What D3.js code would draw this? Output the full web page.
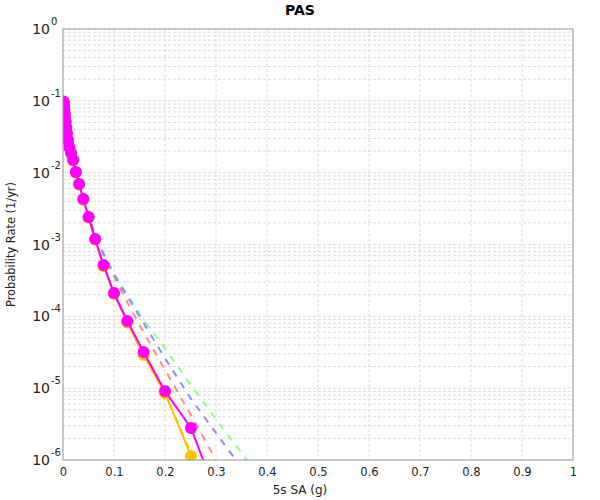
<!DOCTYPE html>
<html lang="en">
<head>
    <meta charset="UTF-8">
    <title>PAS hazard curves</title>
    <script src="https://d3js.org/d3.v7.min.js"></script>
    <style>
        body { margin: 0; background: #fff; }
        text { font-family: "DejaVu Sans", sans-serif; }
    </style>
</head>
<body>
    <div id="my_dataviz"></div>

    <script>
        // shared ground motion levels (g)
        var saLevels = [0.001, 0.00126, 0.00158, 0.002, 0.00251, 0.00316, 0.00398, 0.00501, 0.00631, 0.00794,
                        0.01, 0.0126, 0.0158, 0.02, 0.0251, 0.0316, 0.0398, 0.0501, 0.0631, 0.0794,
                        0.1, 0.126, 0.158, 0.2, 0.251, 0.316, 0.398];

        // solid curves with markers
        var magentaRates = [0.098, 0.094, 0.089, 0.083, 0.076, 0.068, 0.060, 0.051, 0.043, 0.035,
                            0.028, 0.0225, 0.0188, 0.0150, 0.0102, 0.00695, 0.0043, 0.00241, 0.00119, 0.00052,
                            0.000211, 0.000086, 0.0000319, 0.0000091, 0.00000279, 0.00000017, 0.000000005];
        var orangeRates = [0.098, 0.094, 0.089, 0.083, 0.076, 0.068, 0.060, 0.051, 0.043, 0.035,
                           0.028, 0.0225, 0.0186, 0.0148, 0.0100, 0.0068, 0.0042, 0.00236, 0.00116, 0.00050,
                           0.000205, 0.000082, 0.000029, 0.0000085, 0.00000114, 0.00000001, 0.000000001];

        // dashed curves
        var orangeDashRates = [0.098, 0.094, 0.089, 0.083, 0.076, 0.068, 0.060, 0.051, 0.043, 0.035,
                               0.028, 0.0225, 0.0186, 0.0148, 0.0100, 0.0068, 0.0042, 0.00236, 0.00116, 0.00050,
                               0.000205, 0.000082, 0.000029, 0.0000085, 0.00000125, 0.00000005, 0.000000002];
        var salmonRates = [0.098, 0.094, 0.089, 0.083, 0.076, 0.068, 0.060, 0.051, 0.043, 0.035,
                           0.028, 0.0226, 0.0189, 0.0152, 0.0104, 0.0071, 0.0044, 0.0025, 0.00135, 0.00072,
                           0.00036, 0.000158, 0.00006, 0.000018, 0.0000042, 0.00000063, 0.00000005];
        var greenRates = [0.098, 0.094, 0.089, 0.083, 0.076, 0.068, 0.060, 0.051, 0.043, 0.035,
                          0.028, 0.0226, 0.0189, 0.0152, 0.0104, 0.0071, 0.0044, 0.0025, 0.00138, 0.00076,
                          0.00040, 0.0002, 0.000089, 0.0000355, 0.000011, 0.0000026, 0.00000045];
        var blueRates = [0.098, 0.094, 0.089, 0.083, 0.076, 0.068, 0.060, 0.051, 0.043, 0.035,
                         0.028, 0.0226, 0.0189, 0.0152, 0.0104, 0.0071, 0.0044, 0.0025, 0.00138, 0.00074,
                         0.00038, 0.00019, 0.000081, 0.000026, 0.0000071, 0.00000166, 0.00000027];

        var xTicks = [0, 0.1, 0.2, 0.3, 0.4, 0.5, 0.6, 0.7, 0.8, 0.9, 1];
        var yExponents = [0, -1, -2, -3, -4, -5, -6];

        var margin = {top: 29, right: 27, bottom: 40, left: 63};
        var width = 600 - margin.left - margin.right;
        var height = 500 - margin.top - margin.bottom;

        var svg = d3.select("#my_dataviz")
            .append("svg")
            .attr("width", 600)
            .attr("height", 500);

        var g = svg.append("g")
            .attr("transform", "translate(" + margin.left + "," + margin.top + ")");

        var x = d3.scaleLinear().domain([0, 1]).range([0, width]);
        var y = d3.scaleLog().domain([1e-6, 1]).range([height, 0]);

        // grid: every decade plus 2..9 minor lines
        var yGrid = [];
        yExponents.forEach(function(e) {
            for (var m = 1; m < 10; m++) {
                var v = m * Math.pow(10, e);
                if (v <= 1 && v >= 1e-6) yGrid.push(v);
            }
        });

        g.selectAll(".ygrid")
            .data(yGrid)
            .enter()
            .append("line")
            .attr("x1", 0)
            .attr("x2", width)
            .attr("y1", function(d) { return y(d); })
            .attr("y2", function(d) { return y(d); })
            .attr("stroke", "#dcdcdc")
            .attr("stroke-dasharray", "3,2");

        g.selectAll(".xgrid")
            .data(xTicks)
            .enter()
            .append("line")
            .attr("x1", function(d) { return x(d); })
            .attr("x2", function(d) { return x(d); })
            .attr("y1", 0)
            .attr("y2", height)
            .attr("stroke", "#dcdcdc")
            .attr("stroke-dasharray", "3,2");

        // clip for the curves
        svg.append("clipPath").attr("id", "plotclip")
            .append("rect").attr("width", width).attr("height", height);

        var plot = g.append("g").attr("clip-path", "url(#plotclip)");

        var line = d3.line()
            .x(function(d) { return x(d[0]); })
            .y(function(d) { return y(d[1]); });

        function pairs(rates) {
            return saLevels.map(function(s, i) { return [s, rates[i]]; });
        }

        var dashed = [
            {rates: salmonRates, color: "#ff8c8c"},
            {rates: greenRates, color: "#8cff8c"},
            {rates: blueRates, color: "#8c8cff"},
            {rates: orangeDashRates, color: "#ffc000"}
        ];

        dashed.forEach(function(s) {
            plot.append("path")
                .datum(pairs(s.rates))
                .attr("d", line)
                .attr("fill", "none")
                .attr("stroke", s.color)
                .attr("stroke-width", 2)
                .attr("stroke-dasharray", "7,7");
        });

        var solid = [
            {rates: orangeRates, color: "#ffc000"},
            {rates: magentaRates, color: "#ff00ff"}
        ];

        solid.forEach(function(s) {
            plot.append("path")
                .datum(pairs(s.rates))
                .attr("d", line)
                .attr("fill", "none")
                .attr("stroke", s.color)
                .attr("stroke-width", 2);

            plot.selectAll(null)
                .data(pairs(s.rates))
                .enter()
                .append("circle")
                .attr("cx", function(d) { return x(d[0]); })
                .attr("cy", function(d) { return y(d[1]); })
                .attr("r", 6)
                .attr("fill", s.color);
        });

        // frame
        g.append("rect")
            .attr("width", width)
            .attr("height", height)
            .attr("fill", "none")
            .attr("stroke", "#999");

        // x axis labels
        g.append("g")
            .attr("transform", "translate(0," + height + ")")
            .call(d3.axisBottom(x).tickValues(xTicks).tickSize(0).tickPadding(8)
                .tickFormat(function(d) { return d === 0 || d === 1 ? String(d) : d3.format(".1f")(d); }))
            .call(function(a) { a.select(".domain").remove(); })
            .selectAll("text")
                .style("font-size", "11.5px")
                .style("font-family", "DejaVu Sans, sans-serif")
                .attr("fill", "#222");

        // y axis labels, 10 with superscript exponent
        var yl = g.selectAll(".ylab")
            .data(yExponents)
            .enter()
            .append("g")
            .attr("transform", function(d) { return "translate(-13," + (y(Math.pow(10, d)) + 5) + ")"; });

        yl.append("text")
            .attr("text-anchor", "end")
            .style("font-size", "14px")
            .attr("fill", "#222")
            .text("10");

        yl.append("text")
            .attr("x", 1)
            .attr("y", -9)
            .style("font-size", "10px")
            .attr("fill", "#222")
            .text(function(d) { return d === 0 ? "0" : "-" + Math.abs(d); });

        // title and axis titles
        svg.append("text")
            .attr("x", 300)
            .attr("y", 15)
            .attr("text-anchor", "middle")
            .style("font-size", "14px")
            .style("font-weight", "bold")
            .text("PAS");

        svg.append("text")
            .attr("x", 300)
            .attr("y", 494)
            .attr("text-anchor", "middle")
            .style("font-size", "12px")
            .attr("fill", "#222")
            .text("5s SA (g)");

        svg.append("text")
            .attr("transform", "translate(15," + (margin.top + height / 2) + ") rotate(-90)")
            .attr("text-anchor", "middle")
            .style("font-size", "12px")
            .attr("textLength", 125)
            .attr("lengthAdjust", "spacingAndGlyphs")
            .attr("fill", "#222")
            .text("Probability Rate (1/yr)");
    </script>
</body>
</html>
